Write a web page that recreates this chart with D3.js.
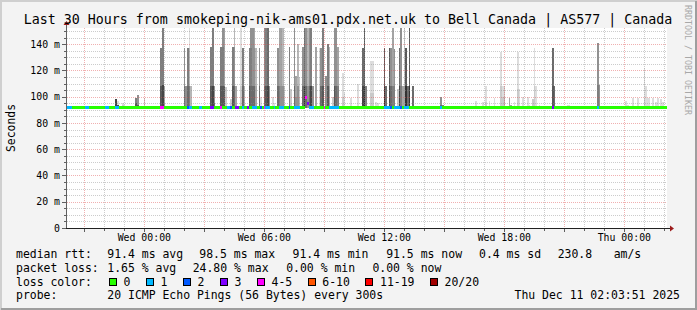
<!DOCTYPE html>
<html>
<head>
<meta charset="utf-8">
<script src="https://cdn.jsdelivr.net/npm/d3@7"></script>
<style>
body { margin: 0; background: #f3f3f3; }
svg { display: block; }
text { font-family: "DejaVu Sans Mono", monospace; fill: #000; }
</style>
</head>
<body>
<div id="chart"></div>
<script>
// chart values
const title = "Last 30 Hours from smokeping-nik-ams01.pdx.net.uk to Bell Canada | AS577 | Canada";
const startTime = new Date(2025, 11, 9, 20, 8);
const endTime = new Date(2025, 11, 11, 2, 8);
const stepMinutes = 5;
const stepCount = 360;
const yMax = 152.3;
const yTicks = [0, 20, 40, 60, 80, 100, 120, 140];
const yTickLabels = ["0", "20 m", "40 m", "60 m", "80 m", "100 m", "120 m", "140 m"];
const xTickLabels = ["Wed 00:00", "Wed 06:00", "Wed 12:00", "Wed 18:00", "Thu 00:00"];

const medianRtt = 91.4;
const medianJumps = [[143, 99], [144, 94.5]];

// [step, lost pings]
const lossSteps = [
  [0,1],[1,1],[2,1],[11,1],[12,1],[23,1],[24,1],[29,1],[30,1],[56,4],[57,4],
  [72,2],[73,1],[74,1],[79,1],[80,1],[86,3],[87,3],[92,4],[96,1],[97,1],[98,2],
  [101,3],[102,3],[105,1],[108,3],[111,1],[112,1],[113,1],[116,2],[118,4],[119,1],
  [120,1],[121,1],[124,1],[127,1],[128,1],[129,1],[133,2],[136,1],[137,1],[138,1],
  [139,1],[143,4],[144,3],[145,1],[146,1],[147,1],[154,4],[157,1],[158,1],[159,1],
  [160,1],[161,1],[162,1],[190,1],[191,1],[192,1],[193,1],[194,2],[196,1],[197,1],
  [198,1],[199,1],[200,2],[202,1],[203,1],[204,1],[224,1],[291,3],[318,1]
];

// [step, [[rtt ms, number of pings at that rtt], ...]] pings above the median, highest first
const smoke = [
  [29,[[98,9]]],[30,[[97,1],[94,8]]],[33,[[95,1],[94,1]]],[34,[[94,1]]],
  [41,[[98.7,6],[95,2]]],[42,[[101.5,5],[94,3]]],[46,[[99.2,2]]],
  [56,[[137,6],[108,2]]],[57,[[160,6],[109,3]]],[58,[[108,4],[95,1]]],
  [59,[[93,1]]],[60,[[93,1]]],[61,[[93,1]]],
  [70,[[137,5],[108,2]]],[71,[[108,5]]],[72,[[137,6],[108,1]]],[73,[[160,1],[137,2],[108,3]]],[74,[[108,3]]],
  [86,[[138,6],[108,2]]],[87,[[160,6],[108,3]]],[88,[[108,5],[95,2]]],
  [92,[[138,6],[108,2]]],[93,[[160,5],[138,1],[108,2]]],[94,[[160,4],[108,4]]],[95,[[107,2]]],
  [98,[[98,2]]],[99,[[138,6],[108,2]]],[100,[[160,3],[138,2],[108,2]]],[101,[[108,4]]],
  [104,[[160,1],[108,1]]],[105,[[137,6],[108,1]]],[106,[[108,3]]],
  [109,[[137,6],[108,2]]],[110,[[160,5],[137,1],[108,1]]],[111,[[160,5],[108,2]]],
  [112,[[160,4],[137,1],[108,2]]],[113,[[137,3],[108,1]]],[115,[[137,5],[108,2]]],[116,[[100,1]]],
  [118,[[160,5],[108,2]]],[119,[[160,6],[108,2]]],[120,[[160,7],[108,2]]],[121,[[108,5]]],
  [123,[[100,1]]],[124,[[95,1]]],[126,[[137,5],[108,2]]],[127,[[160,4],[108,2]]],
  [128,[[160,4],[108,1]]],[129,[[160,3],[108,2]]],[130,[[108,2]]],[133,[[138,6]]],[134,[[106,2]]],
  [136,[[160,5],[108,2]]],[137,[[116,4],[100,1]]],[138,[[140,3],[108,2]]],[139,[[115,2],[100,1]]],
  [141,[[138,5],[108,2]]],[142,[[160,7],[108,3]]],[143,[[160,5],[108,2]]],[144,[[160,3],[108,2]]],
  [145,[[160,5],[108,2]]],[146,[[160,6],[108,3]]],[147,[[108,5]]],[149,[[138,4]]],[151,[[137,1]]],
  [152,[[137,5],[108,2]]],[153,[[160,6],[108,2]]],[155,[[116,5]]],[156,[[140,6],[108,2]]],
  [157,[[138,3],[108,1]]],[159,[[100,2]]],[160,[[160,5],[108,3]]],[161,[[160,5],[108,2]]],
  [162,[[138,4],[108,2]]],[165,[[118,1],[100,1]]],[166,[[103,1]]],[170,[[99,1]]],[174,[[110,1]]],
  [177,[[137,7],[108,2]]],[178,[[160,8],[108,2]]],[179,[[108,6]]],[182,[[127,1],[103,1]]],
  [183,[[127,1],[103,1]]],[185,[[96,1]]],[186,[[95,1]]],
  [190,[[137,8],[108,2]]],[191,[[108,7]]],[193,[[137,8],[108,1]]],[194,[[137,5],[108,2]]],
  [195,[[160,4],[108,2]]],[196,[[136,5],[108,1]]],[198,[[106,2]]],[199,[[137,7],[108,2]]],
  [200,[[160,5],[108,1]]],[201,[[108,4]]],[202,[[160,2],[108,2]]],[203,[[137,8],[108,2]]],
  [204,[[108,7]]],[205,[[160,8],[108,2]]],[207,[[108,7]]],
  [224,[[100,5],[94,2]]],[225,[[94,6]]],[231,[[93,1]]],[245,[[97,1]]],[249,[[96,1]]],
  [251,[[108,1],[96,1]]],[253,[[97,1]]],[256,[[99,1]]],[260,[[134,1],[108,1]]],
  [261,[[108,1],[100,1]]],[262,[[108,2],[100,1]]],[265,[[99,4]]],[266,[[94,4]]],[268,[[96,1]]],
  [270,[[134,1],[106,1]]],[271,[[106,1]]],[273,[[100,1]]],[276,[[100,1]]],[277,[[94,1]]],
  [279,[[98,2]]],[280,[[137,1],[108,1]]],[281,[[108,1]]],[283,[[94,1]]],
  [291,[[137,7],[108,1]]],[292,[[108,7]]],[296,[[93,1]]],[300,[[94,1]]],[301,[[94,1]]],
  [308,[[93,1]]],[312,[[93,1]]],[318,[[141,5],[109,1]]],[319,[[109,5]]],
  [335,[[97,1]]],[336,[[94,1]]],[339,[[99,1]]],[342,[[99,1]]],[346,[[122,1],[99,1]]],
  [347,[[108,1]]],[348,[[99,1]]],[349,[[99,1]]],[351,[[99,1]]],[353,[[96,1]]],
  [354,[[99,1]]],[356,[[98,1]]],[357,[[96,1]]]
];

const lossLabels = ["0", "1", "2", "3", "4-5", "6-10", "11-19", "20/20"];
const lossUpper = [0, 1, 2, 3, 5, 10, 19, 20];
const lossColors = ["#26ff00", "#00b8ff", "#0059ff", "#7e00ff", "#ff00ff", "#ff5500", "#ff0000", "#a10000"];

const rttStats = ["91.4 ms avg", "98.5 ms max", "91.4 ms min", "91.5 ms now", "0.4 ms sd", "230.8", "am/s"];
const lossStats = ["1.65 % avg", "24.80 % max", "0.00 % min", "0.00 % now"];
const probeText = "20 ICMP Echo Pings (56 Bytes) every 300s";
const stampText = "Thu Dec 11 02:03:51 2025";

const W = 697, H = 310;
const plotL = 67, plotR = 667, plotT = 28, plotB = 228;

const svg = d3.select("#chart").append("svg")
    .attr("width", W)
    .attr("height", H);

svg.append("rect").attr("width", W).attr("height", H).attr("fill", "#f3f3f3");
// 3d frame round the image
svg.append("path").attr("d", `M1,${H} V1 H${W}`).attr("fill", "none")
    .attr("stroke", "#cfcfcf").attr("stroke-width", 2);
svg.append("path").attr("d", `M1,${H - 1} H${W - 1} V1`).attr("fill", "none")
    .attr("stroke", "#9e9e9e").attr("stroke-width", 2);

const x = d3.scaleTime().domain([startTime, endTime]).range([plotL, plotR]);
const y = d3.scaleLinear().domain([0, yMax]).range([plotB, plotT]);
const stepTime = s => d3.timeMinute.offset(startTime, s * stepMinutes);
const px = s => Math.round(x(stepTime(s)));

svg.append("rect")
    .attr("x", plotL).attr("y", plotT)
    .attr("width", plotR - plotL).attr("height", plotB - plotT)
    .attr("fill", "#ffffff");

svg.append("defs").append("clipPath").attr("id", "plot")
    .append("rect").attr("x", plotL).attr("y", plotT)
    .attr("width", plotR - plotL).attr("height", plotB - plotT);

const smokeG = svg.append("g").attr("clip-path", "url(#plot)").attr("shape-rendering", "crispEdges");

// smoke: band k runs from the median up to the k-th highest ping (10 bands for 20 pings)
const shade = k => {
    const v = Math.floor(190 / 10 * (10 - k)) + 50;
    return d3.rgb(v, v, v).formatHex();
};

smoke.forEach(([s, runs]) => {
    const pings = [];
    runs.forEach(([v, n]) => { for (let i = 0; i < n; i++) pings.push(v); });
    const x0 = px(s), x1 = px(s + 1);
    pings.slice(0, 10).forEach((v, k) => {
        smokeG.append("rect")
            .attr("x", x0)
            .attr("width", x1 - x0)
            .attr("y", y(v))
            .attr("height", y(medianRtt) - y(v))
            .attr("fill", shade(k + 1));
    });
});

// grid
const grid = svg.append("g").attr("fill", "none").attr("stroke-dasharray", "1,1");
const minorCol = "rgba(143,143,143,0.45)", majorCol = "rgba(222,80,80,0.45)";

d3.range(0, yMax, 5).filter(v => v % 20 !== 0).forEach(v => {
    const yy = Math.round(y(v)) + 0.5;
    grid.append("line").attr("x1", plotL).attr("x2", plotR).attr("y1", yy).attr("y2", yy).attr("stroke", minorCol);
});
d3.timeHour.range(startTime, endTime).filter(t => t.getHours() % 3 !== 0).forEach(t => {
    const xx = Math.round(x(t)) + 0.5;
    grid.append("line").attr("x1", xx).attr("x2", xx).attr("y1", plotT).attr("y2", plotB).attr("stroke", minorCol);
});
yTicks.filter(v => v > 0).forEach(v => {
    const yy = Math.round(y(v)) + 0.5;
    grid.append("line").attr("x1", plotL).attr("x2", plotR).attr("y1", yy).attr("y2", yy).attr("stroke", majorCol);
});
d3.timeHour.every(3).range(startTime, endTime).forEach(t => {
    const xx = Math.round(x(t)) + 0.5;
    grid.append("line").attr("x1", xx).attr("x2", xx).attr("y1", plotT).attr("y2", plotB).attr("stroke", majorCol);
});

// median line coloured by loss
const lossAt = new Map(lossSteps);
const medAt = new Map(medianJumps);
const lossColor = n => lossColors[lossUpper.findIndex(u => n <= u)];
const medG = svg.append("g").attr("clip-path", "url(#plot)").attr("shape-rendering", "crispEdges");

d3.range(stepCount).forEach(s => {
    const med = medAt.has(s) ? medAt.get(s) : medianRtt;
    const x0 = px(s), x1 = px(s + 1);
    medG.append("rect")
        .attr("x", x0).attr("width", x1 - x0)
        .attr("y", Math.round(y(med)) - 2).attr("height", 3)
        .attr("fill", lossColor(lossAt.get(s) || 0));
});

// axes
const axes = svg.append("g").attr("shape-rendering", "crispEdges");
axes.append("line").attr("x1", plotL - 0.5).attr("x2", plotL - 0.5).attr("y1", plotB).attr("y2", plotT - 5)
    .attr("stroke", "#606060");
axes.append("line").attr("x1", plotL - 5).attr("x2", plotR + 4).attr("y1", plotB + 0.5).attr("y2", plotB + 0.5)
    .attr("stroke", "#202020");

d3.range(0, yMax, 5).forEach(v => {
    const yy = Math.round(y(v)) + 0.5;
    const len = v % 20 === 0 ? 4 : 2;
    axes.append("line").attr("x1", plotL - 1 - len).attr("x2", plotL - 1).attr("y1", yy).attr("y2", yy).attr("stroke", "#606060");
});
d3.timeHour.range(startTime, endTime).forEach(t => {
    const xx = Math.round(x(t)) + 0.5;
    const len = t.getHours() % 3 === 0 ? 3 : 2;
    axes.append("line").attr("x1", xx).attr("x2", xx).attr("y1", plotB + 1).attr("y2", plotB + 1 + len).attr("stroke", "#606060");
});

svg.append("path").attr("d", `M${plotL - 3.5},${plotT - 3} L${plotL + 2.5},${plotT - 3} L${plotL - 0.5},${plotT - 7} Z`)
    .attr("fill", "#9c1c1c");
svg.append("path").attr("d", `M${plotR + 3},${plotB - 2.5} L${plotR + 3},${plotB + 3.5} L${plotR + 7},${plotB + 0.5} Z`)
    .attr("fill", "#9c1c1c");

// tick labels
svg.append("g").selectAll("text").data(yTicks).join("text")
    .attr("x", 60)
    .attr("y", d => y(d) + 3.6)
    .attr("text-anchor", "end")
    .style("font-size", "9.85px")
    .text((d, i) => yTickLabels[i]);

const labelTimes = d3.timeHour.every(6).range(startTime, endTime);
svg.append("g").selectAll("text").data(labelTimes).join("text")
    .attr("x", d => x(d))
    .attr("y", 241)
    .attr("text-anchor", "middle")
    .style("font-size", "9.85px")
    .text((d, i) => xTickLabels[i]);

// titles
svg.append("text")
    .attr("x", 348).attr("y", 24)
    .attr("text-anchor", "middle")
    .style("font-size", "13.3px")
    .text(title);

svg.append("text")
    .attr("transform", "translate(14.5,128) rotate(-90)")
    .attr("text-anchor", "middle")
    .style("font-size", "11.4px")
    .text("Seconds");

svg.append("text")
    .attr("transform", "translate(685,5) rotate(90)")
    .style("font-size", "8.3px")
    .style("fill", "#a8a8a8")
    .text("RRDTOOL / TOBI OETIKER");

// legend
const legend = svg.append("g").style("font-size", "11.46px");
const rowY = [258.3, 272, 285.7, 299.4];
const putText = (txt, xx, yy) => legend.append("text").attr("x", xx).attr("y", yy).attr("xml:space", "preserve").text(txt);

putText("median rtt:", 16, rowY[0]);
[107.3, 199.3, 292.5, 386.2, 479, 557.7, 613.7].forEach((xx, i) => putText(rttStats[i], xx, rowY[0]));

putText("packet loss:", 16, rowY[1]);
[107.3, 192.7, 286.2, 372.4].forEach((xx, i) => putText(lossStats[i], xx, rowY[1]));

putText("loss color:", 16, rowY[2]);
let lx = 108.9;
lossLabels.forEach((lab, i) => {
    legend.append("rect")
        .attr("x", Math.round(lx) + 0.5).attr("y", 278.5)
        .attr("width", 7).attr("height", 7)
        .attr("fill", lossColors[i]).attr("stroke", "#000");
    const t = putText(lab, lx + 14.6, rowY[2]);
    lx = lx + 14.6 + t.node().getComputedTextLength() + 15.5;
});

putText("probe:", 16, rowY[3]);
putText(probeText, 107.3, rowY[3]);
putText(stampText, 680, rowY[3]).attr("text-anchor", "end");
</script>
</body>
</html>
